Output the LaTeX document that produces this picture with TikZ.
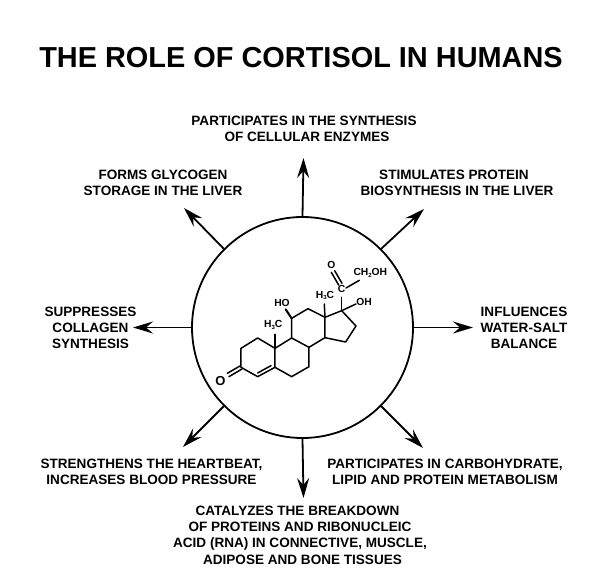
\documentclass[tikz,border=0pt]{standalone}
\usepackage{fontspec}
\setmainfont{Liberation Sans}[BoldFont={Liberation Sans Bold}]
\usetikzlibrary{arrows.meta}
\tikzset{
  lab/.style={align=center,inner sep=0pt,font=\fontsize{13.55}{16.3}\selectfont\bfseries},
  arr/.style={line width=1.8pt,-{Stealth[length=20pt,width=12pt,inset=7pt]}},
  bond/.style={line width=1.5pt,line cap=round,line join=round},
  atom/.style={inner sep=0pt,font=\fontsize{10.3}{11}\selectfont\bfseries}
}
\begin{document}
\begin{tikzpicture}[x=1pt,y=-1pt]
\useasboundingbox (0,0) rectangle (600,573);
\node[inner sep=0pt,font=\fontsize{28.9}{30}\selectfont\bfseries] (title) at (301,58) {THE ROLE OF CORTISOL IN HUMANS};
\node[circle,draw,line width=1.8pt,minimum size=221pt,inner sep=0pt] (c) at (302.5,327.5) {};
% labels
\node[lab] (l1) at (304,129) {PARTICIPATES IN THE SYNTHESIS\\\hspace*{6pt}OF CELLULAR ENZYMES};
\node[lab] (l2) at (163,182.5) {FORMS GLYCOGEN\\STORAGE IN THE LIVER};
\node[lab] (l3) at (457,182.5) {STIMULATES PROTEIN\hspace*{6pt}\\BIOSYNTHESIS IN THE LIVER};
\node[lab] (l4) at (90.5,328) {SUPPRESSES\\COLLAGEN\\SYNTHESIS};
\node[lab] (l5) at (524,328) {INFLUENCES\\WATER-SALT\\BALANCE};
\node[lab] (l6) at (151.5,472) {STRENGTHENS THE HEARTBEAT,\\INCREASES BLOOD PRESSURE};
\node[lab] (l7) at (445,472) {PARTICIPATES IN CARBOHYDRATE,\\LIPID AND PROTEIN METABOLISM};
\node[lab] (l8) at (300,535) {CATALYZES THE BREAKDOWN\hspace*{5pt}\\OF PROTEINS AND RIBONUCLEIC\hspace*{2pt}\\ACID (RNA) IN CONNECTIVE, MUSCLE,\\\hspace*{5pt}ADIPOSE AND BONE TISSUES};
% arrow tips
\coordinate (t1) at (303.5,158);
\coordinate (t2) at (184,208);
\coordinate (t3) at (424,209);
\coordinate (t4) at (133,327.5);
\coordinate (t5) at (473,327.5);
\coordinate (t6) at (183,447);
\coordinate (t7) at (423,448);
\coordinate (t8) at (303.5,498);
\draw[arr] (c.90) -- (t1);
\draw[arr] (c.135) -- (t2);
\draw[arr] (c.45) -- (t3);
\draw[arr] (c.180) -- (t4);
\draw[arr] (c.0) -- (t5);
\draw[arr] (c.225) -- (t6);
\draw[arr] (c.315) -- (t7);
\draw[arr] (c.270) -- (t8);
% molecule
\begin{scope}[x=0.3333pt,y=-0.3333pt,shift={(190pt,-220pt)}]
\coordinate (a1) at (153,385);\coordinate (a2) at (203,354);\coordinate (a3) at (255,385);
\coordinate (a4) at (255,442);\coordinate (a5) at (203,470);\coordinate (a6) at (153,442);
\coordinate (b1) at (305,354);\coordinate (b2) at (357,382);\coordinate (b3) at (357,440);\coordinate (b4) at (305,470);
\coordinate (c1) at (305,295);\coordinate (c2) at (354,266);\coordinate (c3) at (405,292);\coordinate (c4) at (405,353);
\coordinate (d1) at (455,272);\coordinate (d2) at (498,318);\coordinate (d3) at (467,366);
\draw[bond] (a6)--(a1)--(a2)--(a3)--(a4)--(a5)--(a6);
\draw[bond] (a3)--(b1)--(b2)--(b3)--(b4)--(a4);
\draw[bond] (b1)--(c1)--(c2)--(c3)--(c4)--(b2);
\draw[bond] (c3)--(d1)--(d2)--(d3)--(c4);
\draw[bond] (203,459)--(243,437);
\draw[bond] (150,438)--(112,460);
\draw[bond] (156,447)--(117,470);
\node[atom,font=\fontsize{13}{14}\selectfont\bfseries] (o3) at (91,483) {O};
\draw[bond] (a3)--(255,343);
\draw[bond,line width=2pt] (c1)--(287,268);
\draw[bond] (c3)--(403,252);
\draw[bond] (d1)--(455,232);
\draw[bond] (d1)--(498,252);
\node[atom] (m1) at (250,315) {H\raisebox{-1.5pt}{\fontsize{6}{6}\selectfont 3}C};
\node[atom] (ho) at (276,250) {HO};
\node[atom] (m2) at (405,226) {H\raisebox{-1.5pt}{\fontsize{6}{6}\selectfont 3}C};
\node[atom] (oh) at (522,245) {OH};
\node[atom] (cc) at (455,208) {C};
\node[atom] (o) at (424,134) {O};
\node[atom,anchor=west] (ch) at (490,159) {CH\raisebox{-1.5pt}{\fontsize{6}{6}\selectfont 2}OH};
\draw[bond] (446,195)--(424,157);
\draw[bond] (456,190)--(434,152);
\draw[bond] (468,204)--(508,181);
\end{scope}
\end{tikzpicture}
\end{document}
